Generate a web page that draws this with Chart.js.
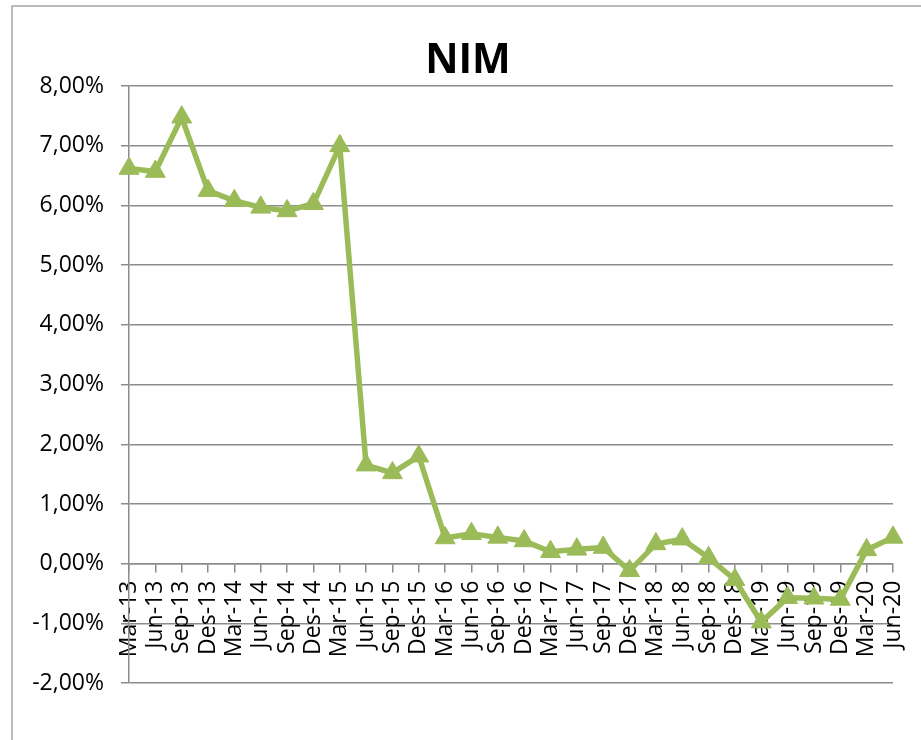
<!DOCTYPE html>
<html>
<head>
<meta charset="utf-8">
<script src="https://cdn.jsdelivr.net/npm/chart.js@4/dist/chart.umd.min.js"></script>
<style>
  html, body { margin: 0; padding: 0; background: #fff; }
  #wrap { width: 921px; height: 740px; position: relative; }
</style>
</head>
<body>
<div id="wrap"><canvas id="c" width="921" height="740"></canvas></div>
<script>
const categories = ["Mar-13","Jun-13","Sep-13","Des-13","Mar-14","Jun-14","Sep-14","Des-14",
  "Mar-15","Jun-15","Sep-15","Des-15","Mar-16","Jun-16","Sep-16","Des-16",
  "Mar-17","Jun-17","Sep-17","Des-17","Mar-18","Jun-18","Sep-18","Des-18",
  "Mar-19","Jun-19","Sep-19","Des-19","Mar-20","Jun-20"];
const nimValues = [6.62, 6.57, 7.48, 6.25, 6.08, 5.97, 5.91, 6.03,
  7.00, 1.65, 1.52, 1.80, 0.43, 0.50, 0.44, 0.38,
  0.20, 0.24, 0.27, -0.12, 0.33, 0.41, 0.10, -0.27,
  -0.98, -0.57, -0.58, -0.60, 0.23, 0.44];
const yTickValues = [-2, -1, 0, 1, 2, 3, 4, 5, 6, 7, 8];
const chartTitle = "NIM";

const GRID = '#8c8c8c';
const GREEN = '#9BBB59';

const framePlugin = {
  id: 'frame',
  afterLayout(chart) {
    // let the y tick labels extend into the left padding without clipping
    if (chart.scales.y) chart.scales.y.left = 0;
  },
  beforeDraw(chart) {
    const ctx = chart.ctx;
    ctx.save();
    ctx.strokeStyle = '#a6a6a6';
    ctx.lineWidth = 1.5;
    ctx.beginPath();
    ctx.moveTo(12, 760);
    ctx.lineTo(12, 6);
    ctx.lineTo(940, 6);
    ctx.stroke();
    ctx.restore();
  }
};

new Chart(document.getElementById('c'), {
  type: 'line',
  data: {
    labels: categories,
    datasets: [{
      label: chartTitle,
      data: nimValues,
      borderColor: GREEN,
      backgroundColor: GREEN,
      borderWidth: 5.5,
      tension: 0,
      pointStyle: 'triangle',
      pointRadius: 11.5,
      pointHoverRadius: 11.5,
      pointBackgroundColor: GREEN,
      pointBorderColor: GREEN,
      pointBorderWidth: 1
    }]
  },
  options: {
    responsive: false,
    animation: false,
    events: [],
    layout: { padding: { left: 43, right: 28, top: 0, bottom: 57 } },
    plugins: {
      legend: { display: false },
      tooltip: { enabled: false },
      title: {
        display: true,
        text: chartTitle,
        color: '#000',
        font: { family: 'Open Sans', size: 41, weight: 'bold', lineHeight: 1.2 },
        padding: { top: 37, bottom: 0 }
      }
    },
    scales: {
      x: {
        type: 'category',
        position: { y: 0 },
        offset: false,
        afterFit(scale) {
          scale.height = 0;
          scale.paddingLeft = 0;
          scale.paddingRight = 0;
        },
        grid: {
          display: true,
          drawOnChartArea: false,
          drawTicks: true,
          tickLength: 8,
          color: GRID,
          lineWidth: 1.5
        },
        border: { display: true, color: GRID, width: 1.5 },
        ticks: {
          autoSkip: false,
          minRotation: 90,
          maxRotation: 90,
          padding: 9,
          color: '#000',
          font: { family: 'Open Sans', size: 23 }
        }
      },
      y: {
        min: -2,
        max: 8,
        afterFit(scale) { scale.width = 86; },
        afterBuildTicks(scale) { scale.ticks = yTickValues.map(v => ({ value: v })); },
        grid: {
          color: GRID,
          lineWidth: 1.5,
          drawTicks: true,
          tickLength: 8
        },
        border: { display: true, color: GRID, width: 1.5 },
        ticks: {
          padding: 17,
          color: '#000',
          font: { family: 'Open Sans', size: 23 },
          callback: (v) => Number(v).toFixed(2).replace('.', ',') + '%'
        }
      }
    }
  },
  plugins: [framePlugin]
});
</script>
</body>
</html>
